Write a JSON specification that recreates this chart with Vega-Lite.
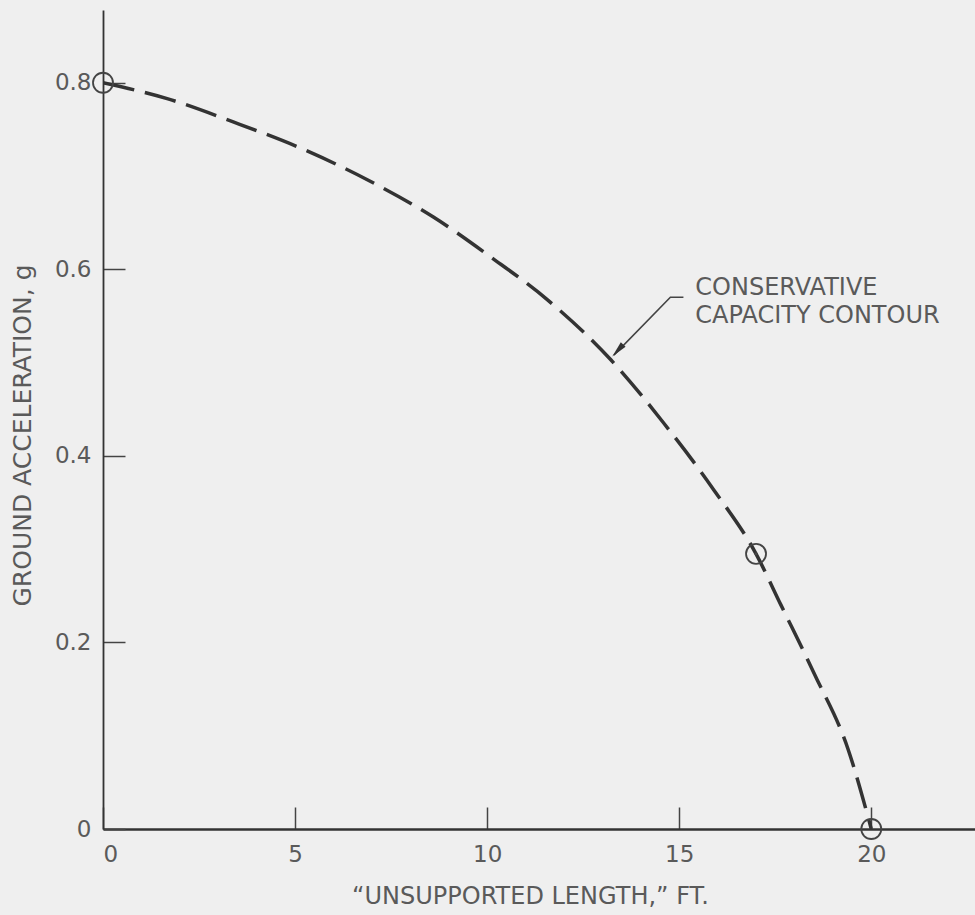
{
  "$schema": "https://vega.github.io/schema/vega-lite/v6.json",
  "width": 872,
  "height": 819,
  "autosize": {"type": "none"},
  "padding": {"left": 103, "top": 10, "right": 0, "bottom": 86},
  "background": "#efefef",
  "config": {"view": {"stroke": null}, "font": "DejaVu Sans"},
  "datasets": {
    "curve": [
      {"x": 0, "y": 0.8},
      {"x": 1.67, "y": 0.783},
      {"x": 3.39, "y": 0.758},
      {"x": 5.14, "y": 0.73},
      {"x": 6.88, "y": 0.696},
      {"x": 8.6, "y": 0.656},
      {"x": 10.1, "y": 0.613},
      {"x": 11.58, "y": 0.567},
      {"x": 13.22, "y": 0.503},
      {"x": 14.6, "y": 0.435},
      {"x": 15.91, "y": 0.363},
      {"x": 17.0, "y": 0.295},
      {"x": 17.65, "y": 0.24},
      {"x": 18.51, "y": 0.167},
      {"x": 19.4, "y": 0.085},
      {"x": 20.0, "y": 0.0}
    ],
    "points": [
      {"x": 0, "y": 0.8},
      {"x": 17, "y": 0.295},
      {"x": 20, "y": 0}
    ],
    "dot": [{"x": 17, "y": 0.295}],
    "arrow": [
      {"x": 15.11, "y": 0.57, "o": 1},
      {"x": 14.77, "y": 0.57, "o": 2},
      {"x": 13.3, "y": 0.508, "o": 3}
    ],
    "head": [{"x": 13.4, "y": 0.513}],
    "label": [{"x": 15.42, "y": 0.572, "t": "CONSERVATIVE\nCAPACITY CONTOUR"}]
  },
  "layer": [
    {
      "data": {"name": "curve"},
      "mark": {"type": "line", "interpolate": "monotone", "stroke": "#333", "strokeWidth": 3.5, "strokeDash": [32, 11], "clip": true},
      "encoding": {
        "x": {
          "field": "x", "type": "quantitative",
          "scale": {"domain": [0, 22.7], "nice": false, "zero": false},
          "axis": {
            "values": [0, 5, 10, 15, 20],
            "grid": false,
            "domainColor": "#333", "domainWidth": 2.5,
            "tickColor": "#444", "tickWidth": 1.5, "tickSize": -22,
            "labelFont": "DejaVu Sans", "labelFontSize": 23, "labelColor": "#5a5a5a",
            "labelPadding": 36, "labelBaseline": "top",
            "title": "“UNSUPPORTED LENGTH,” FT.",
            "titleFont": "DejaVu Sans", "titleFontSize": 24, "titleFontWeight": "normal", "titleColor": "#5a5a5a",
            "titleX": 427, "titleY": 74, "titleAlign": "center", "titleBaseline": "alphabetic"
          }
        },
        "y": {
          "field": "y", "type": "quantitative",
          "scale": {"domain": [0, 0.878], "nice": false, "zero": false},
          "axis": {
            "values": [0, 0.2, 0.4, 0.6, 0.8],
            "format": ".1~f",
            "grid": false,
            "domainColor": "#333", "domainWidth": 1.8,
            "tickColor": "#444", "tickWidth": 1.5, "tickSize": -22,
            "labelFont": "DejaVu Sans", "labelFontSize": 23, "labelColor": "#5a5a5a",
            "labelPadding": 34,
            "title": "GROUND ACCELERATION, g",
            "titleFont": "DejaVu Sans", "titleFontSize": 25, "titleFontWeight": "normal", "titleColor": "#5a5a5a",
            "titleAngle": 270, "titleX": -81, "titleY": 425, "titleAlign": "center", "titleBaseline": "middle"
          }
        }
      }
    },
    {
      "data": {"name": "points"},
      "mark": {"type": "point", "shape": "circle", "size": 400, "filled": false, "stroke": "#444", "strokeWidth": 1.8, "opacity": 1},
      "encoding": {
        "x": {"field": "x", "type": "quantitative"},
        "y": {"field": "y", "type": "quantitative"}
      }
    },
    {
      "data": {"name": "dot"},
      "mark": {"type": "point", "shape": "circle", "size": 10, "filled": true, "color": "#444", "opacity": 1},
      "encoding": {
        "x": {"field": "x", "type": "quantitative"},
        "y": {"field": "y", "type": "quantitative"}
      }
    },
    {
      "data": {"name": "arrow"},
      "mark": {"type": "line", "stroke": "#444", "strokeWidth": 1.6},
      "encoding": {
        "x": {"field": "x", "type": "quantitative"},
        "y": {"field": "y", "type": "quantitative"},
        "order": {"field": "o", "type": "quantitative"}
      }
    },
    {
      "data": {"name": "head"},
      "mark": {"type": "point", "shape": "M0,-1L0.4,1L-0.4,1Z", "size": 260, "filled": true, "color": "#333", "opacity": 1, "angle": 222.6},
      "encoding": {
        "x": {"field": "x", "type": "quantitative"},
        "y": {"field": "y", "type": "quantitative"}
      }
    },
    {
      "data": {"name": "label"},
      "mark": {"type": "text", "align": "left", "baseline": "alphabetic", "lineBreak": "\n", "lineHeight": 28, "font": "DejaVu Sans", "fontSize": 24, "color": "#5a5a5a"},
      "encoding": {
        "x": {"field": "x", "type": "quantitative"},
        "y": {"field": "y", "type": "quantitative"},
        "text": {"field": "t"}
      }
    }
  ]
}
